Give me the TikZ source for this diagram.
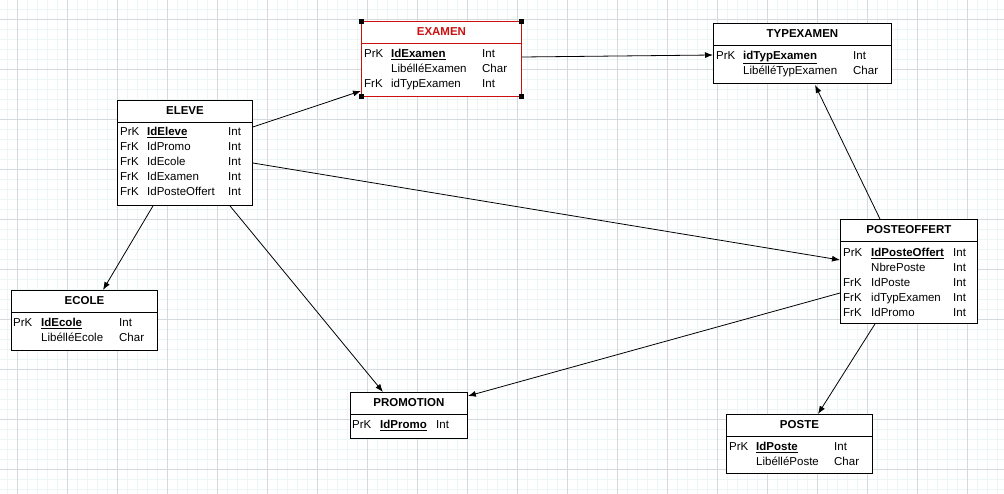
\documentclass[tikz,border=0pt]{standalone}
\usepackage{fontspec}
\setmainfont{Liberation Sans}
\usepackage{xcolor}
\usepackage{tikz}
\usetikzlibrary{arrows.meta,calc}
\definecolor{gridmaj}{RGB}{212,218,222}
\definecolor{gridmin}{RGB}{236,246,247}
\definecolor{exred}{RGB}{204,16,16}
\newcommand{\pkey}[1]{\underline{\textbf{#1}}}

\begin{document}
\begin{tikzpicture}[x=1pt,y=-1pt,
  entity/.style={draw,line width=0.9pt,anchor=north west,inner sep=0pt,fill=white},
  etitle/.style={font=\fontsize{11.5}{13}\selectfont\bfseries,inner sep=0pt},
  ebody/.style={anchor=north west,inner sep=0pt,font=\fontsize{11.5}{15}\selectfont},
  hline/.style={line width=0.9pt},
  rel/.style={-{Latex[length=8pt,width=6pt]},line width=0.8pt}
]
\useasboundingbox (0,0) rectangle (1004,493);
\clip (0,0) rectangle (1004,493);
% background grid
\begin{scope}[shift={(7,9)}]
  \draw[gridmin,line width=0.5pt,step=10pt] (-20,500) grid (1010,-20);
\end{scope}
\begin{scope}[shift={(17,19)}]
  \draw[gridmaj,line width=0.8pt,step=50pt] (-50,500) grid (1000,-50);
\end{scope}

% EXAMEN
\node[entity,draw=exred,minimum width=160,minimum height=75] (examen) at (361,21) {};
\node[etitle,text=exred] (examen-t) at ($(examen.north)+(0,11)$) {EXAMEN};
\draw[hline,exred] ($(examen.north west)+(0,22)$) -- ($(examen.north east)+(0,22)$);
\node[ebody] (examen-b) at ($(examen.north west)+(3,26)$) {\begin{tabular}{@{}p{27pt}@{}p{91pt}@{}l@{}}
PrK & \pkey{IdExamen} & Int\\
 & LibélléExamen & Char\\
FrK & idTypExamen & Int
\end{tabular}};
\foreach \c in {north west,north east,south west,south east}
  \fill (examen.\c) +(-2.5,-2.5) rectangle +(2.5,2.5);

% TYPEXAMEN
\node[entity,minimum width=178,minimum height=60] (typexamen) at (713,23) {};
\node[etitle] (typexamen-t) at ($(typexamen.north)+(0,11)$) {TYPEXAMEN};
\draw[hline] ($(typexamen.north west)+(0,22)$) -- ($(typexamen.north east)+(0,22)$);
\node[ebody] (typexamen-b) at ($(typexamen.north west)+(3,26)$) {\begin{tabular}{@{}p{27pt}@{}p{110pt}@{}l@{}}
PrK & \pkey{idTypExamen} & Int\\
 & LibélléTypExamen & Char
\end{tabular}};

% ELEVE
\node[entity,minimum width=135,minimum height=105] (eleve) at (117,100) {};
\node[etitle] (eleve-t) at ($(eleve.north)+(0,11)$) {ELEVE};
\draw[hline] ($(eleve.north west)+(0,22)$) -- ($(eleve.north east)+(0,22)$);
\node[ebody] (eleve-b) at ($(eleve.north west)+(3,25)$) {\begin{tabular}{@{}p{27pt}@{}p{81pt}@{}l@{}}
PrK & \pkey{IdEleve} & Int\\
FrK & IdPromo & Int\\
FrK & IdEcole & Int\\
FrK & IdExamen & Int\\
FrK & IdPosteOffert & Int
\end{tabular}};

% POSTEOFFERT
\node[entity,minimum width=137,minimum height=104] (posteoffert) at (840,219) {};
\node[etitle] (posteoffert-t) at ($(posteoffert.north)+(0,11)$) {POSTEOFFERT};
\draw[hline] ($(posteoffert.north west)+(0,22)$) -- ($(posteoffert.north east)+(0,22)$);
\node[ebody] (posteoffert-b) at ($(posteoffert.north west)+(3,27)$) {\begin{tabular}{@{}p{28pt}@{}p{82pt}@{}l@{}}
PrK & \pkey{IdPosteOffert} & Int\\
 & NbrePoste & Int\\
FrK & IdPoste & Int\\
FrK & idTypExamen & Int\\
FrK & IdPromo & Int
\end{tabular}};

% ECOLE
\node[entity,minimum width=146,minimum height=60] (ecole) at (11,290) {};
\node[etitle] (ecole-t) at ($(ecole.north)+(0,11)$) {ECOLE};
\draw[hline] ($(ecole.north west)+(0,22)$) -- ($(ecole.north east)+(0,22)$);
\node[ebody] (ecole-b) at ($(ecole.north west)+(2,26)$) {\begin{tabular}{@{}p{28pt}@{}p{78pt}@{}l@{}}
PrK & \pkey{IdEcole} & Int\\
 & LibélléEcole & Char
\end{tabular}};

% PROMOTION
\node[entity,minimum width=117,minimum height=46] (promotion) at (350,392) {};
\node[etitle] (promotion-t) at ($(promotion.north)+(0,11)$) {PROMOTION};
\draw[hline] ($(promotion.north west)+(0,22)$) -- ($(promotion.north east)+(0,22)$);
\node[ebody] (promotion-b) at ($(promotion.north west)+(2,26)$) {\begin{tabular}{@{}p{28pt}@{}p{56pt}@{}l@{}}
PrK & \pkey{IdPromo} & Int
\end{tabular}};

% POSTE
\node[entity,minimum width=146,minimum height=59] (poste) at (726,414) {};
\node[etitle] (poste-t) at ($(poste.north)+(0,11)$) {POSTE};
\draw[hline] ($(poste.north west)+(0,22)$) -- ($(poste.north east)+(0,22)$);
\node[ebody] (poste-b) at ($(poste.north west)+(3,26)$) {\begin{tabular}{@{}p{27pt}@{}p{78pt}@{}l@{}}
PrK & \pkey{IdPoste} & Int\\
 & LibélléPoste & Char
\end{tabular}};

% relations
\draw[rel] ($(eleve.north east)+(0,27)$) -- ($(examen.south west)+(0,-6)$);
\draw[rel] ($(examen.north east)+(0,36)$) -- ($(typexamen.north west)+(0,32)$);
\draw[rel] ($(posteoffert.north west)+(40,0)$) -- ($(typexamen.south west)+(102,1)$);
\draw[rel] ($(eleve.north east)+(0,63)$) -- ($(posteoffert.north west)+(0,41)$);
\draw[rel] ($(eleve.south west)+(36,0)$) -- ($(ecole.north west)+(92,0)$);
\draw[rel] ($(eleve.south west)+(113,0)$) -- ($(promotion.north west)+(33,0)$);
\draw[rel] ($(posteoffert.north west)+(0,74)$) -- ($(promotion.north east)+(0,4)$);
\draw[rel] ($(posteoffert.south west)+(35,0)$) -- ($(poste.north west)+(92,0)$);
\end{tikzpicture}
\end{document}
